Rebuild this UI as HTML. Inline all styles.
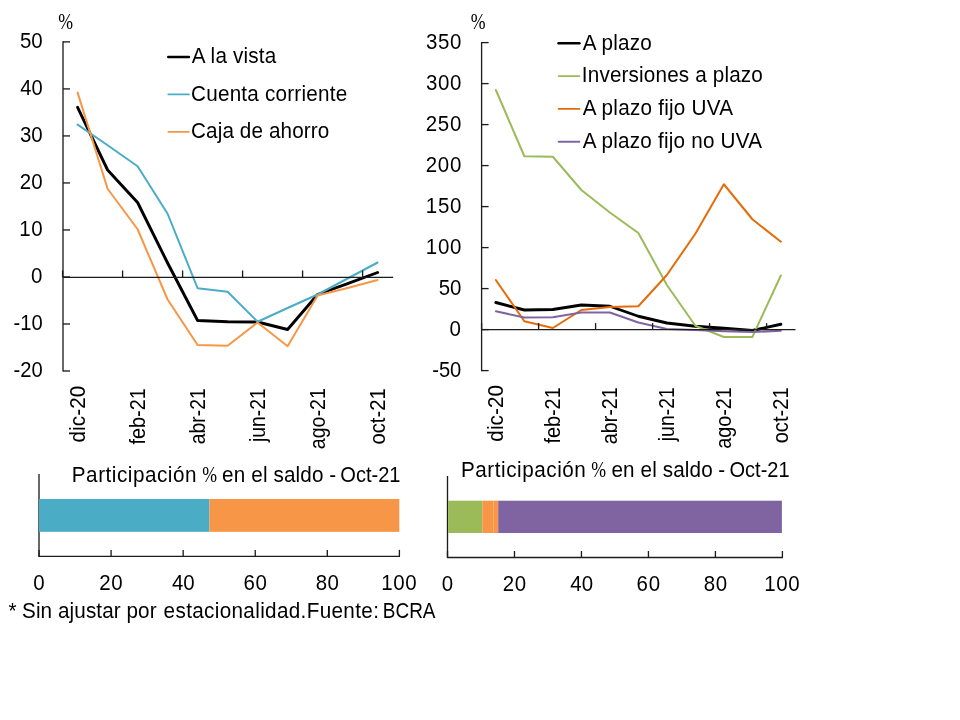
<!DOCTYPE html>
<html lang="es">
<head>
<meta charset="utf-8">
<title>Depósitos - gráfico</title>
<style>
html,body{margin:0;padding:0;background:#fff;}
body{width:960px;height:720px;overflow:hidden;}
svg{display:block;}
svg text{font-family:"Liberation Sans", sans-serif;}
</style>
</head>
<body>
<svg width="960" height="720" viewBox="0 0 960 720">
<rect width="960" height="720" fill="#ffffff"/>
<polyline points="77.60,107.30 107.60,170.00 137.60,202.50 167.60,263.00 197.60,320.50 227.60,321.75 257.60,322.00 287.60,329.50 317.60,294.50 347.60,283.70 377.60,272.50" fill="none" stroke="#000" stroke-width="2.9" stroke-linejoin="round" stroke-linecap="round"/>
<polyline points="77.60,124.60 107.60,145.30 137.60,166.25 167.60,213.75 197.60,288.25 227.60,291.75 257.60,321.75 287.60,308.00 317.60,294.50 347.60,278.50 377.60,262.50" fill="none" stroke="#4bacc6" stroke-width="2.0" stroke-linejoin="round" stroke-linecap="round"/>
<polyline points="77.60,92.60 107.60,188.75 137.60,229.25 167.60,299.50 197.60,345.00 227.60,345.75 257.60,322.50 287.60,346.25 317.60,295.50 347.60,288.00 377.60,280.00" fill="none" stroke="#f79646" stroke-width="2.0" stroke-linejoin="round" stroke-linecap="round"/>
<line x1="63.0" y1="41.3" x2="63.0" y2="371.6" stroke="#1c1c1c" stroke-width="1.33" />
<line x1="63.0" y1="41.9" x2="70.0" y2="41.9" stroke="#1c1c1c" stroke-width="1.33" />
<text transform="translate(19.98,47.80) scale(0.9300,1)" font-size="22" textLength="24.43" lengthAdjust="spacing">50</text>
<line x1="63.0" y1="88.91428571428571" x2="70.0" y2="88.91428571428571" stroke="#1c1c1c" stroke-width="1.33" />
<text transform="translate(20.33,94.81) scale(0.9300,1)" font-size="22" textLength="24.05" lengthAdjust="spacingAndGlyphs">40</text>
<line x1="63.0" y1="135.92857142857142" x2="70.0" y2="135.92857142857142" stroke="#1c1c1c" stroke-width="1.33" />
<text transform="translate(20.02,141.83) scale(0.9300,1)" font-size="22" textLength="24.39" lengthAdjust="spacing">30</text>
<line x1="63.0" y1="182.94285714285715" x2="70.0" y2="182.94285714285715" stroke="#1c1c1c" stroke-width="1.33" />
<text transform="translate(19.77,188.84) scale(0.9300,1)" font-size="22" textLength="24.65" lengthAdjust="spacing">20</text>
<line x1="63.0" y1="229.95714285714286" x2="70.0" y2="229.95714285714286" stroke="#1c1c1c" stroke-width="1.33" />
<text transform="translate(19.24,235.86) scale(0.9300,1)" font-size="22" textLength="25.22" lengthAdjust="spacing">10</text>
<line x1="63.0" y1="276.9714285714286" x2="70.0" y2="276.9714285714286" stroke="#1c1c1c" stroke-width="1.33" />
<text transform="translate(31.10,282.87) scale(0.9300,1)" font-size="22" textLength="12.47" lengthAdjust="spacing">0</text>
<line x1="63.0" y1="323.98571428571427" x2="70.0" y2="323.98571428571427" stroke="#1c1c1c" stroke-width="1.33" />
<text transform="translate(13.59,329.89) scale(0.9300,1)" font-size="22" textLength="31.30" lengthAdjust="spacingAndGlyphs">-10</text>
<line x1="63.0" y1="371.0" x2="70.0" y2="371.0" stroke="#1c1c1c" stroke-width="1.33" />
<text transform="translate(13.59,376.90) scale(0.9300,1)" font-size="22" textLength="31.30" lengthAdjust="spacingAndGlyphs">-20</text>
<line x1="63.0" y1="277.3" x2="392.5" y2="277.3" stroke="#1c1c1c" stroke-width="1.33" />
<line x1="62.6" y1="270.5" x2="62.6" y2="277.3" stroke="#1c1c1c" stroke-width="1.33" />
<line x1="122.6" y1="270.5" x2="122.6" y2="277.3" stroke="#1c1c1c" stroke-width="1.33" />
<line x1="182.6" y1="270.5" x2="182.6" y2="277.3" stroke="#1c1c1c" stroke-width="1.33" />
<line x1="242.6" y1="270.5" x2="242.6" y2="277.3" stroke="#1c1c1c" stroke-width="1.33" />
<line x1="302.6" y1="270.5" x2="302.6" y2="277.3" stroke="#1c1c1c" stroke-width="1.33" />
<line x1="362.6" y1="270.5" x2="362.6" y2="277.3" stroke="#1c1c1c" stroke-width="1.33" />
<line x1="392.5" y1="276.7" x2="392.5" y2="277.90000000000003" stroke="#1c1c1c" stroke-width="1.33" />
<line x1="168.3" y1="57.0" x2="188.9" y2="57.0" stroke="#000" stroke-width="2.6" stroke-linecap="round"/>
<text transform="translate(191.86,62.90) scale(0.9400,1)" font-size="22" textLength="89.78" lengthAdjust="spacing">A la vista</text>
<line x1="168.3" y1="94.4" x2="188.9" y2="94.4" stroke="#4bacc6" stroke-width="1.8" stroke-linecap="round"/>
<text transform="translate(191.05,100.70) scale(0.9400,1)" font-size="22" textLength="166.08" lengthAdjust="spacing">Cuenta corriente</text>
<line x1="168.3" y1="131.8" x2="188.9" y2="131.8" stroke="#f79646" stroke-width="1.8" stroke-linecap="round"/>
<text transform="translate(191.05,137.70) scale(0.9400,1)" font-size="22" textLength="147.04" lengthAdjust="spacing">Caja de ahorro</text>
<text transform="translate(58.14,29.00) scale(0.7733,1)" font-size="23" style="font-family:'Liberation Serif',serif">%</text>
<text transform="translate(85.10,442.57) rotate(-90) scale(0.9400,1)" font-size="22" textLength="60.51" lengthAdjust="spacing">dic-20</text>
<text transform="translate(145.10,444.49) rotate(-90) scale(0.9400,1)" font-size="22" textLength="59.90" lengthAdjust="spacingAndGlyphs">feb-21</text>
<text transform="translate(205.10,444.18) rotate(-90) scale(0.9400,1)" font-size="22" textLength="59.56" lengthAdjust="spacingAndGlyphs">abr-21</text>
<text transform="translate(265.10,442.00) rotate(-90) scale(0.9400,1)" font-size="22" textLength="57.24" lengthAdjust="spacingAndGlyphs">jun-21</text>
<text transform="translate(325.10,449.18) rotate(-90) scale(0.9400,1)" font-size="22" textLength="64.88" lengthAdjust="spacingAndGlyphs">ago-21</text>
<text transform="translate(385.10,444.57) rotate(-90) scale(0.9400,1)" font-size="22" textLength="59.98" lengthAdjust="spacingAndGlyphs">oct-21</text>
<polyline points="495.85,302.50 524.35,310.00 552.85,309.50 581.35,305.00 609.85,306.25 638.35,316.25 666.85,323.00 695.35,326.25 723.85,328.25 752.35,330.50 780.85,324.25" fill="none" stroke="#000" stroke-width="2.9" stroke-linejoin="round" stroke-linecap="round"/>
<polyline points="495.85,90.00 524.35,156.25 552.85,156.75 581.35,190.00 609.85,212.50 638.35,233.00 666.85,285.00 695.35,325.75 723.85,337.00 752.35,337.00 780.85,275.50" fill="none" stroke="#9bbb59" stroke-width="2.0" stroke-linejoin="round" stroke-linecap="round"/>
<polyline points="495.85,280.00 524.35,321.25 552.85,328.00 581.35,310.00 609.85,307.00 638.35,306.25 666.85,275.00 695.35,233.75 723.85,184.25 752.35,219.25 780.85,241.75" fill="none" stroke="#e46c0a" stroke-width="2.0" stroke-linejoin="round" stroke-linecap="round"/>
<polyline points="495.85,311.25 524.35,317.50 552.85,317.25 581.35,312.50 609.85,312.50 638.35,322.50 666.85,328.90 695.35,330.00 723.85,331.20 752.35,332.10 780.85,330.70" fill="none" stroke="#8064a2" stroke-width="2.0" stroke-linejoin="round" stroke-linecap="round"/>
<line x1="481.6" y1="42.0" x2="481.6" y2="371.20000000000005" stroke="#1c1c1c" stroke-width="1.33" />
<line x1="481.6" y1="42.6" x2="488.6" y2="42.6" stroke="#1c1c1c" stroke-width="1.33" />
<text transform="translate(425.97,48.90) scale(0.9300,1)" font-size="22" textLength="37.99" lengthAdjust="spacing">350</text>
<line x1="481.6" y1="83.6" x2="488.6" y2="83.6" stroke="#1c1c1c" stroke-width="1.33" />
<text transform="translate(425.97,89.90) scale(0.9300,1)" font-size="22" textLength="37.99" lengthAdjust="spacing">300</text>
<line x1="481.6" y1="124.6" x2="488.6" y2="124.6" stroke="#1c1c1c" stroke-width="1.33" />
<text transform="translate(425.72,130.90) scale(0.9300,1)" font-size="22" textLength="38.26" lengthAdjust="spacing">250</text>
<line x1="481.6" y1="165.6" x2="488.6" y2="165.6" stroke="#1c1c1c" stroke-width="1.33" />
<text transform="translate(425.72,171.90) scale(0.9300,1)" font-size="22" textLength="38.26" lengthAdjust="spacing">200</text>
<line x1="481.6" y1="206.6" x2="488.6" y2="206.6" stroke="#1c1c1c" stroke-width="1.33" />
<text transform="translate(425.84,212.90) scale(0.9300,1)" font-size="22" textLength="38.13" lengthAdjust="spacing">150</text>
<line x1="481.6" y1="247.6" x2="488.6" y2="247.6" stroke="#1c1c1c" stroke-width="1.33" />
<text transform="translate(425.84,253.90) scale(0.9300,1)" font-size="22" textLength="38.13" lengthAdjust="spacing">100</text>
<line x1="481.6" y1="288.6" x2="488.6" y2="288.6" stroke="#1c1c1c" stroke-width="1.33" />
<text transform="translate(438.78,294.90) scale(0.9300,1)" font-size="22" textLength="24.21" lengthAdjust="spacing">50</text>
<line x1="481.6" y1="329.6" x2="488.6" y2="329.6" stroke="#1c1c1c" stroke-width="1.33" />
<text transform="translate(449.60,335.90) scale(0.9300,1)" font-size="22" textLength="12.58" lengthAdjust="spacing">0</text>
<line x1="481.6" y1="370.6" x2="488.6" y2="370.6" stroke="#1c1c1c" stroke-width="1.33" />
<text transform="translate(432.19,376.90) scale(0.9300,1)" font-size="22" textLength="31.30" lengthAdjust="spacingAndGlyphs">-50</text>
<line x1="481.6" y1="329.6" x2="795.5" y2="329.6" stroke="#1c1c1c" stroke-width="1.33" />
<line x1="481.6" y1="323.1" x2="481.6" y2="329.6" stroke="#1c1c1c" stroke-width="1.33" />
<line x1="538.6" y1="323.1" x2="538.6" y2="329.6" stroke="#1c1c1c" stroke-width="1.33" />
<line x1="595.6" y1="323.1" x2="595.6" y2="329.6" stroke="#1c1c1c" stroke-width="1.33" />
<line x1="652.6" y1="323.1" x2="652.6" y2="329.6" stroke="#1c1c1c" stroke-width="1.33" />
<line x1="709.6" y1="323.1" x2="709.6" y2="329.6" stroke="#1c1c1c" stroke-width="1.33" />
<line x1="766.6" y1="323.1" x2="766.6" y2="329.6" stroke="#1c1c1c" stroke-width="1.33" />
<line x1="558.6" y1="43.2" x2="579.4" y2="43.2" stroke="#000" stroke-width="2.6" stroke-linecap="round"/>
<text transform="translate(582.71,49.80) scale(0.9400,1)" font-size="22" textLength="73.57" lengthAdjust="spacing">A plazo</text>
<line x1="558.6" y1="76.05000000000001" x2="579.4" y2="76.05000000000001" stroke="#9bbb59" stroke-width="1.8" stroke-linecap="round"/>
<text transform="translate(581.84,82.00) scale(0.9400,1)" font-size="22" textLength="192.58" lengthAdjust="spacing">Inversiones a plazo</text>
<line x1="558.6" y1="108.9" x2="579.4" y2="108.9" stroke="#e46c0a" stroke-width="1.8" stroke-linecap="round"/>
<text transform="translate(582.71,114.80) scale(0.9400,1)" font-size="22" textLength="159.93" lengthAdjust="spacing">A plazo fijo UVA</text>
<line x1="558.6" y1="141.75" x2="579.4" y2="141.75" stroke="#8064a2" stroke-width="1.8" stroke-linecap="round"/>
<text transform="translate(582.71,147.80) scale(0.9400,1)" font-size="22" textLength="190.78" lengthAdjust="spacing">A plazo fijo no UVA</text>
<text transform="translate(470.64,29.00) scale(0.7733,1)" font-size="23" style="font-family:'Liberation Serif',serif">%</text>
<text transform="translate(503.15,441.67) rotate(-90) scale(0.9400,1)" font-size="22" textLength="60.29" lengthAdjust="spacing">dic-20</text>
<text transform="translate(560.15,443.59) rotate(-90) scale(0.9400,1)" font-size="22" textLength="59.90" lengthAdjust="spacingAndGlyphs">feb-21</text>
<text transform="translate(617.15,444.18) rotate(-90) scale(0.9400,1)" font-size="22" textLength="60.52" lengthAdjust="spacingAndGlyphs">abr-21</text>
<text transform="translate(674.15,441.20) rotate(-90) scale(0.9400,1)" font-size="22" textLength="57.35" lengthAdjust="spacingAndGlyphs">jun-21</text>
<text transform="translate(731.15,448.68) rotate(-90) scale(0.9400,1)" font-size="22" textLength="65.31" lengthAdjust="spacingAndGlyphs">ago-21</text>
<text transform="translate(788.15,443.37) rotate(-90) scale(0.9400,1)" font-size="22" textLength="59.66" lengthAdjust="spacingAndGlyphs">oct-21</text>
<line x1="39.0" y1="474" x2="39.0" y2="557.0" stroke="#1c1c1c" stroke-width="1.33" />
<line x1="39.0" y1="556.4" x2="400.0" y2="556.4" stroke="#1c1c1c" stroke-width="1.33" />
<line x1="39.0" y1="549.9" x2="39.0" y2="556.4" stroke="#1c1c1c" stroke-width="1.33" />
<text transform="translate(33.20,589.80) scale(0.9300,1)" font-size="22" textLength="12.47" lengthAdjust="spacing">0</text>
<line x1="111.08" y1="549.9" x2="111.08" y2="556.4" stroke="#1c1c1c" stroke-width="1.33" />
<text transform="translate(99.25,589.80) scale(0.9300,1)" font-size="22" textLength="25.19" lengthAdjust="spacing">20</text>
<line x1="183.16" y1="549.9" x2="183.16" y2="556.4" stroke="#1c1c1c" stroke-width="1.33" />
<text transform="translate(171.89,589.80) scale(0.9300,1)" font-size="22" textLength="24.59" lengthAdjust="spacing">40</text>
<line x1="255.23999999999995" y1="549.9" x2="255.23999999999995" y2="556.4" stroke="#1c1c1c" stroke-width="1.33" />
<text transform="translate(243.40,589.80) scale(0.9300,1)" font-size="22" textLength="25.20" lengthAdjust="spacing">60</text>
<line x1="327.32" y1="549.9" x2="327.32" y2="556.4" stroke="#1c1c1c" stroke-width="1.33" />
<text transform="translate(315.63,589.80) scale(0.9300,1)" font-size="22" textLength="25.04" lengthAdjust="spacing">80</text>
<line x1="399.4" y1="549.9" x2="399.4" y2="556.4" stroke="#1c1c1c" stroke-width="1.33" />
<text transform="translate(381.34,589.80) scale(0.9300,1)" font-size="22" textLength="38.02" lengthAdjust="spacing">100</text>
<rect x="39.0" y="499.0" width="170.5" height="32.85" fill="#4bacc6"/>
<rect x="209.5" y="499.0" width="189.8" height="32.85" fill="#f79646"/>
<text transform="translate(71.80,481.60) scale(0.9400,1)" font-size="22" textLength="132.70" lengthAdjust="spacing">Participación</text>
<text transform="translate(202.29,481.50) scale(0.7733,1)" font-size="23" style="font-family:'Liberation Serif',serif">%</text>
<text transform="translate(0,481.60) scale(0.9400,1)" font-size="22"><tspan x="236.30" textLength="107.82" lengthAdjust="spacing">en el saldo</tspan> <tspan x="350.19" textLength="7.81" lengthAdjust="spacing">-</tspan> <tspan x="362.04" textLength="64.03" lengthAdjust="spacingAndGlyphs">Oct-21</tspan></text>
<text transform="translate(0,617.70) scale(0.9400,1)" font-size="22"><tspan x="8.95" textLength="8.68" lengthAdjust="spacing">*</tspan> <tspan x="23.47" textLength="143.12" lengthAdjust="spacing">Sin ajustar por</tspan> <tspan x="174.07" textLength="229.01" lengthAdjust="spacing">estacionalidad.Fuente:</tspan> <tspan x="407.24" textLength="56.10" lengthAdjust="spacingAndGlyphs">BCRA</tspan></text>
<line x1="447.5" y1="476" x2="447.5" y2="558.1" stroke="#1c1c1c" stroke-width="1.33" />
<line x1="447.5" y1="557.5" x2="783.0" y2="557.5" stroke="#1c1c1c" stroke-width="1.33" />
<line x1="447.5" y1="551.0" x2="447.5" y2="557.5" stroke="#1c1c1c" stroke-width="1.33" />
<text transform="translate(441.70,591.00) scale(0.9300,1)" font-size="22" textLength="12.47" lengthAdjust="spacing">0</text>
<line x1="514.48" y1="551.0" x2="514.48" y2="557.5" stroke="#1c1c1c" stroke-width="1.33" />
<text transform="translate(502.65,591.00) scale(0.9300,1)" font-size="22" textLength="25.19" lengthAdjust="spacing">20</text>
<line x1="581.46" y1="551.0" x2="581.46" y2="557.5" stroke="#1c1c1c" stroke-width="1.33" />
<text transform="translate(570.19,591.00) scale(0.9300,1)" font-size="22" textLength="24.59" lengthAdjust="spacing">40</text>
<line x1="648.44" y1="551.0" x2="648.44" y2="557.5" stroke="#1c1c1c" stroke-width="1.33" />
<text transform="translate(636.60,591.00) scale(0.9300,1)" font-size="22" textLength="25.20" lengthAdjust="spacing">60</text>
<line x1="715.42" y1="551.0" x2="715.42" y2="557.5" stroke="#1c1c1c" stroke-width="1.33" />
<text transform="translate(703.73,591.00) scale(0.9300,1)" font-size="22" textLength="25.04" lengthAdjust="spacing">80</text>
<line x1="782.4" y1="551.0" x2="782.4" y2="557.5" stroke="#1c1c1c" stroke-width="1.33" />
<text transform="translate(764.34,591.00) scale(0.9300,1)" font-size="22" textLength="38.02" lengthAdjust="spacing">100</text>
<rect x="448.1" y="500.7" width="34.20000000000001" height="32.3" fill="#9bbb59"/>
<rect x="482.3" y="500.7" width="15.899999999999977" height="32.3" fill="#f79646"/>
<rect x="493.15" y="500.7" width="0.7" height="32.3" fill="#fbb880"/>
<rect x="498.2" y="500.7" width="283.7" height="32.3" fill="#8064a2"/>
<text transform="translate(460.90,476.60) scale(0.9400,1)" font-size="22" textLength="132.91" lengthAdjust="spacing">Participación</text>
<text transform="translate(591.29,476.50) scale(0.7733,1)" font-size="23" style="font-family:'Liberation Serif',serif">%</text>
<text transform="translate(0,476.60) scale(0.9400,1)" font-size="22"><tspan x="650.45" textLength="107.71" lengthAdjust="spacing">en el saldo</tspan> <tspan x="764.24" textLength="7.81" lengthAdjust="spacing">-</tspan> <tspan x="776.09" textLength="63.92" lengthAdjust="spacingAndGlyphs">Oct-21</tspan></text>
</svg>
</body>
</html>
